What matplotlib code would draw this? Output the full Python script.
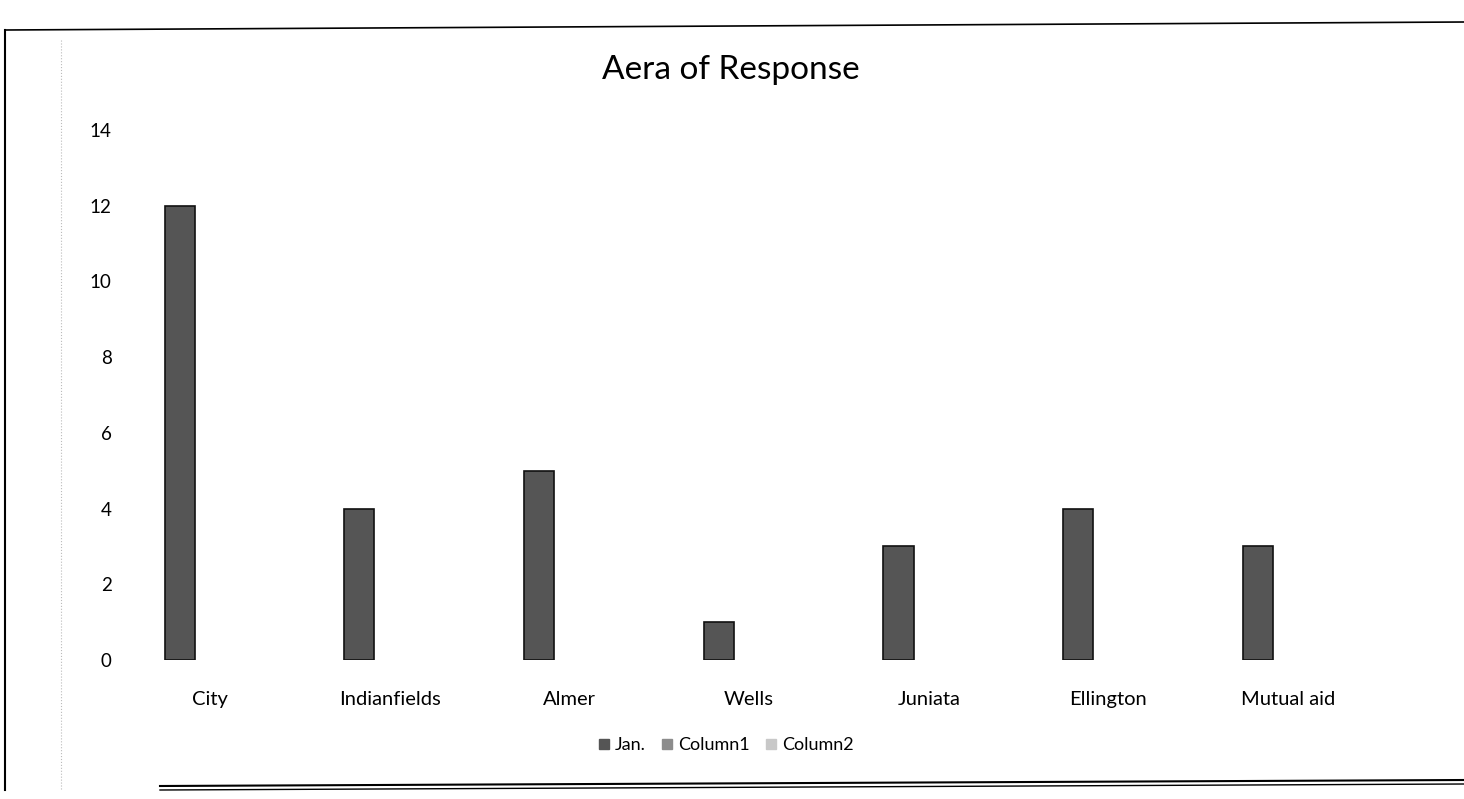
import numpy as np
import matplotlib.pyplot as plt
from matplotlib.lines import Line2D

# Datos
categorias = ['City', 'Indianfields', 'Almer', 'Wells', 'Juniata', 'Ellington', 'Mutual aid']
jan = [12, 4, 5, 1, 3, 4, 3]
column1 = [0, 0, 0, 0, 0, 0, 0]
column2 = [0, 0, 0, 0, 0, 0, 0]
series = ['Jan.', 'Column1', 'Column2']
yticks = [0, 2, 4, 6, 8, 10, 12, 14]

plt.rcParams['font.family'] = ['Lato', 'DejaVu Sans']

fig = plt.figure(figsize=(14.64, 7.99), dpi=100)
ax = fig.add_axes([120/1464, 139/799, 1258/1464, 530/799])

x = np.arange(len(categorias))
w = 0.168
colores = ['#555555', '#8c8c8c', '#c8c8c8']
for i, (nombre, vals) in enumerate(zip(series, [jan, column1, column2])):
    ax.bar(x + (i - 1) * w, vals, w, color=colores[i],
           edgecolor='#111111' if i == 0 else 'none', linewidth=1.2, label=nombre)

ax.set_xlim(-0.5, len(categorias) - 0.5)
ax.set_ylim(0, 14)
ax.set_yticks(yticks)
ax.set_xticks(x)
ax.set_xticklabels(categorias, fontsize=14.5)
ax.tick_params(axis='x', length=0, pad=22)
ax.tick_params(axis='y', length=0, pad=6, labelsize=13.5)
for s in ax.spines.values():
    s.set_visible(False)

fig.text(731/1464, 1 - 70/799, 'Aera of Response', ha='center', va='center', fontsize=24)

handles = [Line2D([], [], marker='s', linestyle='none', markersize=7,
                  markerfacecolor=c, markeredgecolor=c) for c in colores]
fig.legend(handles, series, loc='center', bbox_to_anchor=(726/1464, 1 - 745/799),
           ncol=3, frameon=False, fontsize=13, handlelength=0.6,
           handletextpad=0.3, columnspacing=0.9)

# Marco del gráfico
fig.add_artist(Line2D([5/1464, 5/1464], [1 - 30/799, 1 - 790/799], color='black', lw=1.5))
fig.add_artist(Line2D([5/1464, 1], [1 - 30/799, 1 - 22/799], color='black', lw=1.2))
fig.add_artist(Line2D([160/1464, 1], [1 - 786/799, 1 - 780/799], color='black', lw=1.5))
fig.add_artist(Line2D([160/1464, 1], [1 - 790/799, 1 - 784/799], color='black', lw=1.0))
fig.add_artist(Line2D([61/1464, 61/1464], [1 - 40/799, 1 - 790/799], color='#bbbbbb', lw=0.8, linestyle=':'))

fig.savefig('out.png', dpi=100)
